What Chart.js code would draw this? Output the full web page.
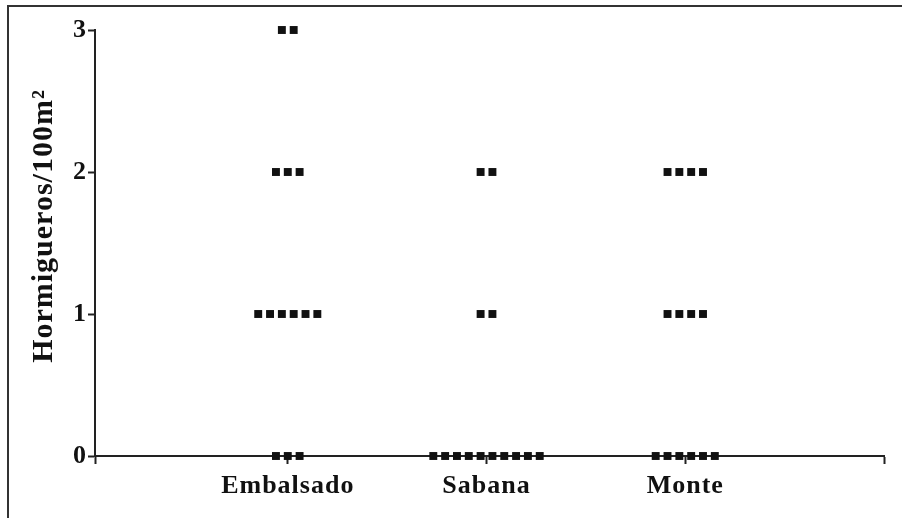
<!DOCTYPE html>
<html><head><meta charset="utf-8">
<script src="https://cdn.jsdelivr.net/npm/chart.js@4"></script>
<style>
html,body{margin:0;padding:0;background:#fff;overflow:hidden}
#wrap{position:relative;width:902px;height:518px;overflow:hidden;background:#fff}
#frame{position:absolute;left:7px;top:5px;width:1000px;height:1000px;border:2px solid #333;box-sizing:border-box}
canvas{position:absolute;left:0;top:0}
</style></head><body>
<div id="wrap"><div id="frame"></div><canvas id="c" width="902" height="518"></canvas></div>
<script>
// ---- data ----
const categories = ['Embalsado', 'Sabana', 'Monte'];
const embalsado = [3, 3, 2, 2, 2, 1, 1, 1, 1, 1, 1, 0, 0, 0];
const sabana    = [2, 2, 1, 1, 0, 0, 0, 0, 0, 0, 0, 0, 0, 0];
const monte     = [2, 2, 2, 2, 1, 1, 1, 1, 0, 0, 0, 0, 0, 0];
const yTicks = [0, 1, 2, 3];
const yAxisTitle = 'Hormigueros/100m²';

// ---- layout: spread equal values side by side around each category ----
const X_MIN = 0.03, X_MAX = 4.0;
const SPREAD = 0.0595; // horizontal gap between points in x-scale units
function dotPlot(values, catIndex) {
  const groups = {};
  values.forEach(v => { (groups[v] = groups[v] || []).push(v); });
  const pts = [];
  Object.keys(groups).forEach(k => {
    const n = groups[k].length;
    groups[k].forEach((v, j) => {
      pts.push({ x: catIndex + 1 + (j - (n - 1) / 2) * SPREAD, y: v });
    });
  });
  return pts;
}
const seriesList = [embalsado, sabana, monte];

const FONT = "'Liberation Serif', 'DejaVu Serif', serif";
const INK = '#111';
const AXIS = '#222';

const spacing = {
  id: 'spacing',
  beforeDraw(chart) { chart.ctx.letterSpacing = '1px'; },
  beforeDatasetsDraw(chart) { chart.ctx.letterSpacing = '0px'; }
};

new Chart(document.getElementById('c'), {
  type: 'scatter',
  plugins: [spacing],
  data: {
    datasets: seriesList.map((vals, i) => ({
      label: categories[i],
      data: dotPlot(vals, i),
      pointStyle: 'rect',
      pointRadius: 5.6,
      pointHoverRadius: 5.6,
      backgroundColor: INK,
      borderWidth: 0,
      clip: false
    }))
  },
  options: {
    responsive: false,
    animation: false,
    devicePixelRatio: 1,
    events: [],
    layout: { padding: { top: 30, right: 18, left: 0, bottom: 0 } },
    plugins: { legend: { display: false }, tooltip: { enabled: false } },
    scales: {
      x: {
        type: 'linear', min: X_MIN, max: X_MAX,
        afterBuildTicks: s => { s.ticks = [X_MIN, 1, 2, 3, X_MAX].map(v => ({ value: v })); },
        ticks: {
          autoSkip: false, maxRotation: 0,
          callback: v => (Number.isInteger(v) && categories[v - 1]) || '',
          font: { family: FONT, size: 26, weight: 'bold' },
          color: INK, padding: 7
        },
        grid: { drawOnChartArea: false, drawTicks: true, tickLength: 8, tickColor: AXIS, tickWidth: 2 },
        border: { display: true, color: AXIS, width: 2 },
        afterFit: s => { s.height = 62; }
      },
      y: {
        min: 0, max: 3,
        afterBuildTicks: s => { s.ticks = yTicks.map(v => ({ value: v })); },
        ticks: {
          font: { family: FONT, size: 26, weight: 'bold' },
          color: INK, padding: 1
        },
        grid: { drawOnChartArea: false, drawTicks: true, tickLength: 7, tickColor: AXIS, tickWidth: 2 },
        border: { display: true, color: AXIS, width: 2 },
        title: {
          display: true, text: '    ' + yAxisTitle,
          font: { family: FONT, size: 30, weight: 'bold' },
          color: INK, padding: { top: 26, bottom: 0 }
        },
        afterFit: s => { s.width = 95; }
      }
    }
  }
});
</script>
</body></html>
